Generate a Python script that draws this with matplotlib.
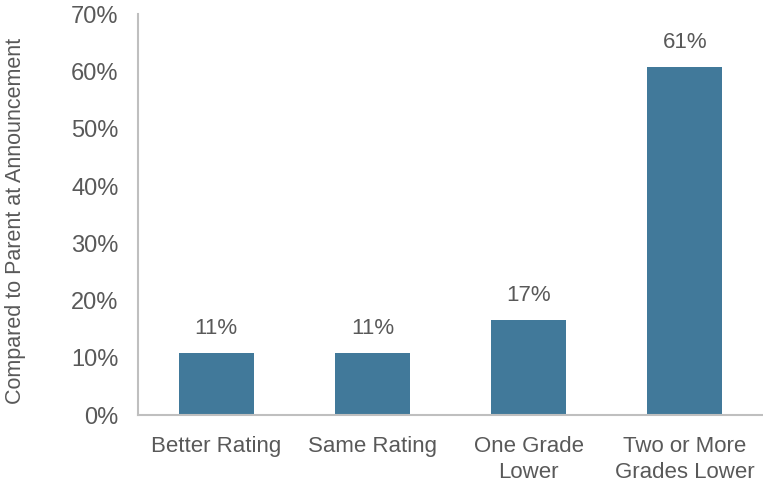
import matplotlib.pyplot as plt
from matplotlib.ticker import FuncFormatter

plt.rcParams['font.family'] = ['Liberation Sans', 'DejaVu Sans']

categories = ['Better Rating', 'Same Rating', 'One Grade\nLower', 'Two or More\nGrades Lower']
values = [10.85, 10.85, 16.6, 60.85]

bar_color = '#41799A'
text_color = '#595959'
axis_color = '#BFBFBF'

fig = plt.figure(figsize=(7.63, 4.86), dpi=100)
ax = fig.add_axes([0.181, 0.146, 0.819, 0.8245])

x = list(range(len(categories)))
bars = ax.bar(x, values, width=0.48, color=bar_color)

for b, v in zip(bars, values):
    ax.annotate(f'{round(v):.0f}%', (b.get_x() + b.get_width() / 2, v),
                xytext=(0, 10), textcoords='offset points',
                ha='center', va='bottom', fontsize=16, color=text_color)

ax.set_xlim(-0.5, len(categories) - 0.5)
ax.set_ylim(0, 70)
ax.set_yticks(range(0, 71, 10))
ax.yaxis.set_major_formatter(FuncFormatter(lambda v, p: f'{v:.0f}%'))
ax.set_xticks(x)
ax.set_xticklabels(categories, linespacing=1.3)

ax.tick_params(axis='both', length=0, labelsize=16, labelcolor=text_color)
ax.tick_params(axis='y', pad=14, labelsize=17)
ax.tick_params(axis='x', pad=15)

for s in ['top', 'right']:
    ax.spines[s].set_visible(False)
for s in ['left', 'bottom']:
    ax.spines[s].set_color(axis_color)
    ax.spines[s].set_linewidth(1.5)

ax.set_ylabel('Compared to Parent at Announcement', fontsize=15.5, color=text_color)
ax.yaxis.set_label_coords(-0.18, 0.485)

fig.savefig('out.png', dpi=100)
